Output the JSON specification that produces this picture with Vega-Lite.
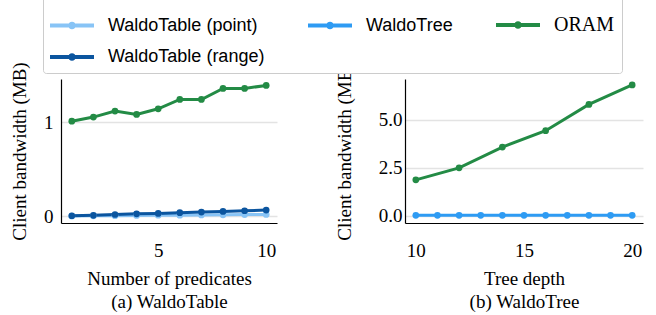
{
  "$schema": "https://vega.github.io/schema/vega-lite/v6.json",
  "padding": {"left": 10, "top": -5, "right": 5, "bottom": 5},
  "background": "white",
  "config": {
    "view": {"stroke": null},
    "axis": {
      "labelFont": "Liberation Serif", "labelFontSize": 19, "labelColor": "black",
      "titleFont": "Liberation Serif", "titleFontSize": 19, "titleFontWeight": "normal", "titleColor": "black",
      "domainColor": "black", "domainWidth": 1.2, "ticks": false,
      "gridColor": "#e3e3e3", "gridWidth": 1.5
    },
    "legend": {
      "labelFont": "Liberation Sans", "labelFontSize": 18, "labelColor": "black"
    }
  },
  "datasets": {
    "a": [
      {"x": 1, "series": "WaldoTable (point)", "y": 0.004},
      {"x": 2, "series": "WaldoTable (point)", "y": 0.006},
      {"x": 3, "series": "WaldoTable (point)", "y": 0.008},
      {"x": 4, "series": "WaldoTable (point)", "y": 0.010},
      {"x": 5, "series": "WaldoTable (point)", "y": 0.012},
      {"x": 6, "series": "WaldoTable (point)", "y": 0.013},
      {"x": 7, "series": "WaldoTable (point)", "y": 0.015},
      {"x": 8, "series": "WaldoTable (point)", "y": 0.017},
      {"x": 9, "series": "WaldoTable (point)", "y": 0.019},
      {"x": 10, "series": "WaldoTable (point)", "y": 0.021},
      {"x": 1, "series": "WaldoTable (range)", "y": 0.007},
      {"x": 2, "series": "WaldoTable (range)", "y": 0.011},
      {"x": 3, "series": "WaldoTable (range)", "y": 0.020},
      {"x": 4, "series": "WaldoTable (range)", "y": 0.027},
      {"x": 5, "series": "WaldoTable (range)", "y": 0.032},
      {"x": 6, "series": "WaldoTable (range)", "y": 0.039},
      {"x": 7, "series": "WaldoTable (range)", "y": 0.046},
      {"x": 8, "series": "WaldoTable (range)", "y": 0.053},
      {"x": 9, "series": "WaldoTable (range)", "y": 0.060},
      {"x": 10, "series": "WaldoTable (range)", "y": 0.067},
      {"x": 1, "series": "ORAM", "y": 1.01},
      {"x": 2, "series": "ORAM", "y": 1.053},
      {"x": 3, "series": "ORAM", "y": 1.117},
      {"x": 4, "series": "ORAM", "y": 1.081},
      {"x": 5, "series": "ORAM", "y": 1.141},
      {"x": 6, "series": "ORAM", "y": 1.24},
      {"x": 7, "series": "ORAM", "y": 1.24},
      {"x": 8, "series": "ORAM", "y": 1.357},
      {"x": 9, "series": "ORAM", "y": 1.357},
      {"x": 10, "series": "ORAM", "y": 1.389}
    ],
    "b": [
      {"x": 10, "series": "WaldoTree", "y": 0.03},
      {"x": 11, "series": "WaldoTree", "y": 0.03},
      {"x": 12, "series": "WaldoTree", "y": 0.03},
      {"x": 13, "series": "WaldoTree", "y": 0.03},
      {"x": 14, "series": "WaldoTree", "y": 0.03},
      {"x": 15, "series": "WaldoTree", "y": 0.03},
      {"x": 16, "series": "WaldoTree", "y": 0.03},
      {"x": 17, "series": "WaldoTree", "y": 0.03},
      {"x": 18, "series": "WaldoTree", "y": 0.03},
      {"x": 19, "series": "WaldoTree", "y": 0.03},
      {"x": 20, "series": "WaldoTree", "y": 0.03},
      {"x": 10, "series": "ORAM", "y": 1.875},
      {"x": 12, "series": "ORAM", "y": 2.5},
      {"x": 14, "series": "ORAM", "y": 3.58},
      {"x": 16, "series": "ORAM", "y": 4.43},
      {"x": 18, "series": "ORAM", "y": 5.8},
      {"x": 20, "series": "ORAM", "y": 6.81}
    ]
  },
  "hconcat": [
    {
      "width": 216, "height": 144,
      "data": {"name": "a"},
      "mark": {"type": "line", "strokeWidth": 3, "point": {"filled": true, "size": 45, "opacity": 1}},
      "encoding": {
        "x": {"field": "x", "type": "quantitative", "scale": {"domain": [0.5, 10.5], "nice": false, "zero": false},
              "axis": {"values": [5, 10], "grid": false, "labelPadding": 18, "title": ["Number of predicates", "(a) WaldoTable"], "titleLineHeight": 23, "titlePadding": 9}},
        "y": {"field": "y", "type": "quantitative", "scale": {"domain": [-0.07, 1.457], "nice": false, "zero": false},
              "axis": {"values": [0, 1], "grid": true, "labelPadding": 8, "title": "Client bandwidth (MB)", "titlePadding": 14}},
        "color": {"field": "series", "type": "nominal",
          "scale": {"domain": ["WaldoTable (point)", "WaldoTree", "ORAM", "WaldoTable (range)"], "range": ["#88c4f6", "#2e9bf3", "#238b45", "#0b559f"]},
          "legend": {
            "orient": "none", "legendX": -18, "legendY": -83, "title": null, "columns": 3, "direction": "horizontal",
            "symbolType": "M-1,-0.09H1V0.09H-1Z M-0.17,0 A0.17,0.17 0 1,1 0.17,0 A0.17,0.17 0 1,1 -0.17,0",
            "symbolSize": 1936, "symbolStrokeWidth": 0, "labelOffset": 14, "columnPadding": 43, "rowPadding": 0,
            "padding": 7, "strokeColor": "#cccccc", "fillColor": "white", "cornerRadius": 3,
            "labelLimit": 300,
            "encode": {
              "symbols": {"update": {"fill": {"signal": "scale('color', datum.value)"}, "strokeWidth": {"value": 0}, "opacity": {"value": 1}}},
              "labels": {"update": {"font": {"signal": "datum.value == 'ORAM' ? 'Liberation Serif' : 'Liberation Sans'"}, "fontSize": {"signal": "datum.value == 'ORAM' ? 20 : 18"}}}
            }
          }
        }
      }
    },
    {
      "width": 238, "height": 144,
      "data": {"name": "b"},
      "mark": {"type": "line", "strokeWidth": 3, "point": {"filled": true, "size": 45, "opacity": 1}},
      "encoding": {
        "x": {"field": "x", "type": "quantitative", "scale": {"domain": [9.5, 20.5], "nice": false, "zero": false},
              "axis": {"values": [10, 15, 20], "grid": false, "labelPadding": 18, "title": ["Tree depth", "(b) WaldoTree"], "titleLineHeight": 23, "titlePadding": 9}},
        "y": {"field": "y", "type": "quantitative", "scale": {"domain": [-0.37, 7.12], "nice": false, "zero": false},
              "axis": {"values": [0, 2.5, 5], "format": ".1f", "grid": true, "labelPadding": 3, "title": "Client bandwidth (MB)", "titlePadding": 24}},
        "color": {"field": "series", "type": "nominal"}
      }
    }
  ],
  "spacing": 58
}
